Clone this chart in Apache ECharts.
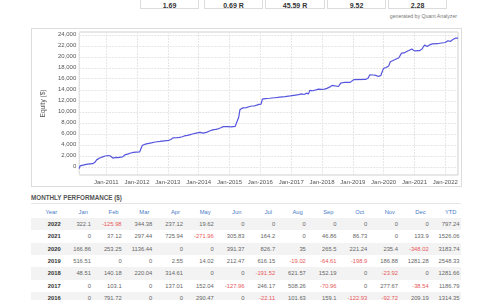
<!DOCTYPE html>
<html>
<head>
<meta charset="utf-8">
<script src="https://cdn.jsdelivr.net/npm/echarts@6/dist/echarts.min.js"></script>
<style>
  body { margin: 0; width: 480px; height: 300px; overflow: hidden; background: #fff; position: relative;
         font-family: "Liberation Sans", Arial, sans-serif; }
  .stat { position: absolute; top: -20px; height: 29px; border: 1px solid #dcdcdc; box-sizing: border-box;
          text-align: center; font-weight: bold; font-size: 7px; color: #333; line-height: 10px; padding-top: 20px; }
  .credit { position: absolute; right: 23px; top: 13px; font-size: 5.2px; color: #777; }
  .chart-box { position: absolute; left: 31px; top: 28px; width: 431px; height: 159px; border: 1px solid #dcdcdc; box-sizing: border-box; }
  #equity { position: absolute; left: 0; top: 0; width: 429px; height: 157px; }
  .section-title { position: absolute; left: 31px; top: 194px; font-size: 6.3px; font-weight: bold; color: #555; }
  .rule { position: absolute; left: 31px; top: 203px; width: 430px; height: 1px; background: #e6e6e6; }
  table { position: absolute; left: 31px; top: 205.8px; width: 430px; table-layout: fixed; border-collapse: collapse; font-size: 5.8px; }
  th, td { height: 12.3px; line-height: 12.3px; padding: 0 1.5px 0 0; text-align: right; white-space: nowrap; overflow: hidden; }
  th { color: #4a7bc7; font-weight: normal; padding-right: 4.5px; }
  td { color: #666; }
  td.yr { color: #333; font-weight: bold; padding-right: 1px; }
  td.neg { color: #e8585a; }
  tr.shade td { background: #f3f3f3; }
</style>
</head>
<body>
<div id="stats"></div>
<div class="credit">generated by Quant Analyzer</div>
<div class="chart-box"><div id="equity"></div></div>
<div class="section-title">MONTHLY PERFORMANCE ($)</div>
<div class="rule"></div>
<table id="perf"></table>
<script>
// summary boxes along the top (labels cut off in the source)
const statValues = ['1.69', '0.69 R', '45.59 R', '9.52', '2.28'];
const statLeft = [140, 204, 265, 327, 388];
const statWidth = [59, 59, 60, 59, 59];

// equity curve
const equityDates = [
  '2010-02-16', '2010-02-25', '2010-03-15', '2010-05-10', '2010-06-20', '2010-07-25', '2010-08-20',
  '2010-09-10', '2010-10-15', '2010-11-20', '2010-12-20', '2011-01-25', '2011-02-20', '2011-03-10',
  '2011-03-25', '2011-04-20', '2011-05-25', '2011-06-20', '2011-07-15', '2011-08-10', '2011-09-10',
  '2011-09-25', '2011-10-20', '2011-11-20', '2011-12-20', '2012-02-01', '2012-02-20', '2012-03-05',
  '2012-03-25', '2012-04-20', '2012-05-20', '2012-06-20', '2012-07-20', '2012-08-10', '2012-08-25',
  '2012-10-01', '2012-11-20', '2013-01-10', '2013-02-05', '2013-03-01', '2013-03-20', '2013-04-20',
  '2013-05-20', '2013-06-20', '2013-07-15', '2013-08-20', '2013-09-25', '2013-10-20', '2013-12-01',
  '2014-01-15', '2014-02-05', '2014-02-25', '2014-03-20', '2014-04-10', '2014-05-10', '2014-06-15',
  '2014-07-20', '2014-08-20', '2014-09-20', '2014-10-20', '2014-12-01', '2015-01-20', '2015-03-10',
  '2015-04-01', '2015-04-20', '2015-05-05', '2015-05-20', '2015-06-10', '2015-07-20', '2015-08-20',
  '2015-09-20', '2015-10-20', '2015-11-20', '2015-12-15', '2016-01-10', '2016-01-25', '2016-03-01',
  '2016-04-20', '2016-06-20', '2016-08-20', '2016-10-20', '2016-12-20', '2017-02-01', '2017-04-01',
  '2017-05-01', '2017-06-01', '2017-07-01', '2017-07-25', '2017-08-10', '2017-09-15', '2017-11-20',
  '2017-12-20', '2018-01-31', '2018-02-28', '2018-03-31', '2018-04-30', '2018-07-15', '2018-08-10',
  '2018-09-30', '2018-11-30', '2019-01-15', '2019-02-01', '2019-05-31', '2019-06-30', '2019-07-20',
  '2019-08-31', '2019-09-30', '2019-10-31', '2019-11-30', '2019-12-10', '2019-12-31', '2020-01-31',
  '2020-02-29', '2020-03-20', '2020-03-31', '2020-06-30', '2020-07-31', '2020-08-31', '2020-09-30',
  '2020-10-31', '2020-11-30', '2020-12-31', '2021-02-28', '2021-03-31', '2021-04-30', '2021-05-31',
  '2021-06-30', '2021-07-31', '2021-09-30', '2021-10-31', '2021-12-31', '2022-01-31', '2022-02-28',
  '2022-03-31', '2022-04-30', '2022-05-31'
];
const equityValues = [
  -350, 150, 420, 430, 520, 560, 800,
  1250, 1600, 1800, 1950, 2050, 1950, 2000,
  1550, 1700, 1650, 1750, 1800, 2150, 2300,
  2150, 2500, 2600, 2650, 2700, 2750, 3900,
  4100, 4150, 4250, 4350, 4450, 4750, 4550,
  4600, 4700, 4800, 4950, 5250, 5050, 5300,
  5350, 5450, 5600, 5700, 5850, 5950, 6100,
  6250, 6350, 6100, 6050, 6300, 6500, 6700,
  6800, 6900, 7100, 7300, 7300, 7250, 7350,
  7700, 9000, 10400, 10600, 10700, 10750, 10900,
  11050, 11050, 11200, 11350, 11400, 12300, 12400,
  12450, 12550, 12650, 12750, 12870, 12970, 13110,
  13260, 13130, 13380, 13250, 13890, 13820, 14100,
  14060, 14110, 14250, 14470, 14780, 14590, 15210,
  15360, 15340, 15850, 15850, 15870, 16080, 16700,
  16680, 16620, 16420, 16610, 17100, 17890, 18050,
  18300, 19100, 19440, 19830, 20660, 20690, 20960,
  21180, 21420, 21070, 21110, 21400, 22130, 21860,
  22160, 22330, 22370, 22460, 22590, 22910, 22790,
  23130, 23370, 23390
];

// monthly performance table
const tableHeader = ['Year', 'Jan', 'Feb', 'Mar', 'Apr', 'May', 'Jun', 'Jul', 'Aug', 'Sep', 'Oct', 'Nov', 'Dec', 'YTD'];
const tableYears = ['2022', '2021', '2020', '2019', '2018', '2017', '2016'];
const perf2022 = ['322.1', '-125.98', '344.38', '237.12', '19.62', '0', '0', '0', '0', '0', '0', '0', '797.24'];
const perf2021 = ['0', '37.12', '297.44', '725.94', '-271.96', '305.83', '164.2', '0', '46.86', '86.73', '0', '133.9', '1526.06'];
const perf2020 = ['166.86', '253.25', '1136.44', '0', '0', '391.37', '826.7', '35', '265.5', '221.24', '235.4', '-348.02', '3183.74'];
const perf2019 = ['516.51', '0', '0', '2.55', '14.02', '212.47', '616.15', '-19.02', '-64.61', '-198.9', '186.88', '1281.28', '2548.33'];
const perf2018 = ['48.51', '140.18', '220.04', '314.61', '0', '0', '-191.52', '621.57', '152.19', '0', '-23.92', '0', '1281.66'];
const perf2017 = ['0', '103.1', '0', '137.01', '152.04', '-127.96', '246.17', '508.26', '-70.96', '0', '277.67', '-38.54', '1186.79'];
const perf2016 = ['0', '791.72', '0', '0', '290.47', '0', '-22.11', '101.63', '159.1', '-122.93', '-92.72', '209.19', '1314.35'];
const perfRows = [perf2022, perf2021, perf2020, perf2019, perf2018, perf2017, perf2016];

// stat boxes
const statsEl = document.getElementById('stats');
statValues.forEach((v, i) => {
  const d = document.createElement('div');
  d.className = 'stat';
  d.style.left = statLeft[i] + 'px';
  d.style.width = statWidth[i] + 'px';
  d.textContent = v;
  statsEl.appendChild(d);
});

// table
const perfEl = document.getElementById('perf');
let html = '<tr>' + tableHeader.map(h => '<th>' + h + '</th>').join('') + '</tr>';
perfRows.forEach((row, r) => {
  html += '<tr' + (r % 2 === 0 ? ' class="shade"' : '') + '><td class="yr">' + tableYears[r] + '</td>';
  row.forEach(v => {
    html += '<td' + (v.charAt(0) === '-' ? ' class="neg"' : '') + '>' + v + '</td>';
  });
  html += '</tr>';
});
perfEl.innerHTML = html;

// equity chart
const chart = echarts.init(document.getElementById('equity'));
const YEAR = 365 * 24 * 3600 * 1000;
const gridLine = { color: '#e6e6e6', type: [2, 1], width: 1 };

chart.setOption({
  animation: false,
  grid: { left: 37, top: 3, right: 3, bottom: 11, show: true, borderColor: '#d0d0d0', borderWidth: 1 },
  xAxis: {
    type: 'time',
    min: '2010-02-16',
    max: '2022-05-31',
    splitNumber: 12,
    minInterval: YEAR,
    maxInterval: YEAR,
    axisLine: { show: false },
    axisTick: { show: false },
    axisLabel: {
      fontSize: 6, color: '#555', margin: 4, fontWeight: 'normal',
      formatter: function (v) {
        const d = new Date(v);
        return d.getMonth() === 0 ? 'Jan-' + d.getFullYear() : '';
      }
    },
    splitLine: { show: true, lineStyle: gridLine }
  },
  yAxis: {
    type: 'value',
    min: -1500,
    max: 24500,
    interval: 500,
    name: 'Equity ($)',
    nameLocation: 'middle',
    nameGap: 25,
    nameTextStyle: { fontSize: 6.5, color: '#555' },
    axisLine: { show: false },
    axisTick: { show: false },
    axisLabel: {
      fontSize: 6, color: '#555', margin: 3,
      formatter: function (v) { return v % 2000 === 0 ? v.toLocaleString('en-US') : ''; }
    },
    splitLine: { show: true, lineStyle: Object.assign({}, gridLine, { color: ['transparent', 'transparent', 'transparent', '#e6e6e6'] }) }
  },
  series: [{
    type: 'line',
    data: equityDates.map((d, i) => [d, equityValues[i]]),
    showSymbol: false,
    lineStyle: { color: '#5555dd', width: 1.2 },
    itemStyle: { color: '#5555dd' }
  }]
});
</script>
</body>
</html>
